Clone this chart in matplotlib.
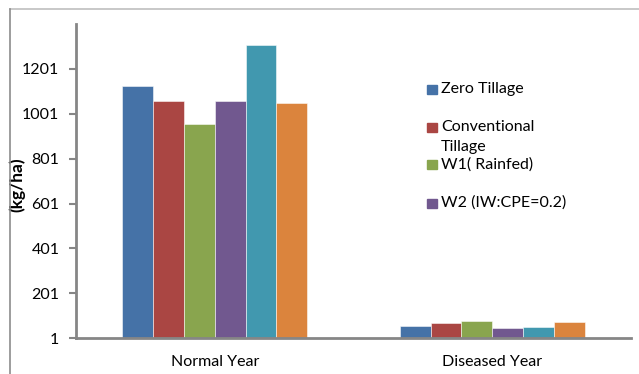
import numpy as np
import matplotlib.pyplot as plt
from matplotlib.patches import Rectangle
from matplotlib.lines import Line2D

plt.rcParams['font.family'] = ['Lato', 'DejaVu Sans']

# Data
years = ["Normal Year", "Diseased Year"]
series = ["Zero Tillage", "Conventional Tillage", "W1( Rainfed)",
          "W2 (IW:CPE=0.2)", "W3", "W4"]
values = {
    "Zero Tillage": [1127, 56],
    "Conventional Tillage": [1057, 69],
    "W1( Rainfed)": [956, 77],
    "W2 (IW:CPE=0.2)": [1057, 46],
    "W3": [1308, 51],
    "W4": [1048, 75],
}
colors = ["#4572A7", "#AA4643", "#89A54E", "#71588F", "#4198AF", "#DB843D"]
legend_labels = ["Zero Tillage", "Conventional\nTillage", "W1( Rainfed)", "W2 (IW:CPE=0.2)"]
yticks = [1, 201, 401, 601, 801, 1001, 1201]

W, H = 639, 374
fig = plt.figure(figsize=(W / 100, H / 100), dpi=100)
ax = fig.add_axes([76 / W, 1 - 338.3 / H, (631 - 76) / W, (338.3 - 24) / H])

x = np.arange(len(years))
bw = 0.111
for i, name in enumerate(series):
    ax.bar(x + (i - 2.5) * bw, values[name], bw, color=colors[i],
           edgecolor=(1, 1, 1, 0.6), linewidth=0.6, zorder=2)

ax.set_xlim(-0.5, 1.5)
ax.set_ylim(1, 1401)
ax.set_yticks(yticks)
ax.set_yticklabels([str(t) for t in yticks], fontsize=11.5)
ax.set_xticks(x)
ax.set_xticklabels(years, fontsize=11.5)
ax.tick_params(axis='x', length=0, pad=12)
ax.tick_params(axis='y', length=5, width=1.5, color='#868686', pad=7)
for s in ['top', 'right']:
    ax.spines[s].set_visible(False)
for s in ['left', 'bottom']:
    ax.spines[s].set_color('#868686')
    ax.spines[s].set_linewidth(2)
ax.set_ylabel("(kg/ha)", fontsize=12.5, fontweight='bold')
ax.yaxis.set_label_coords(-(76 - 25) / (631 - 76), (338.3 - 185) / (338.3 - 24))

# outer chart frame (cropped)
fig.add_artist(Line2D([10 / W, 1], [1 - 9 / H, 1 - 9 / H], color='#bfbfbf', lw=1.2))
fig.add_artist(Line2D([10 / W, 10 / W], [0, 1 - 9 / H], color='#8c8c8c', lw=1.2))

# legend (Excel style, first four series visible)
ys = [89, 127, 165, 203]
for i, (lab, yy) in enumerate(zip(legend_labels, ys)):
    fig.add_artist(Rectangle((427 / W, 1 - (yy + 4.5) / H), 9.5 / W, 9 / H,
                             transform=fig.transFigure, color=colors[i]))
    lines = lab.split("\n")
    for k, ln in enumerate(lines):
        fig.text(441 / W, 1 - (yy + k * 20) / H, ln, fontsize=11.5,
                 ha='left', va='center')

fig.savefig("out.png", dpi=100)
